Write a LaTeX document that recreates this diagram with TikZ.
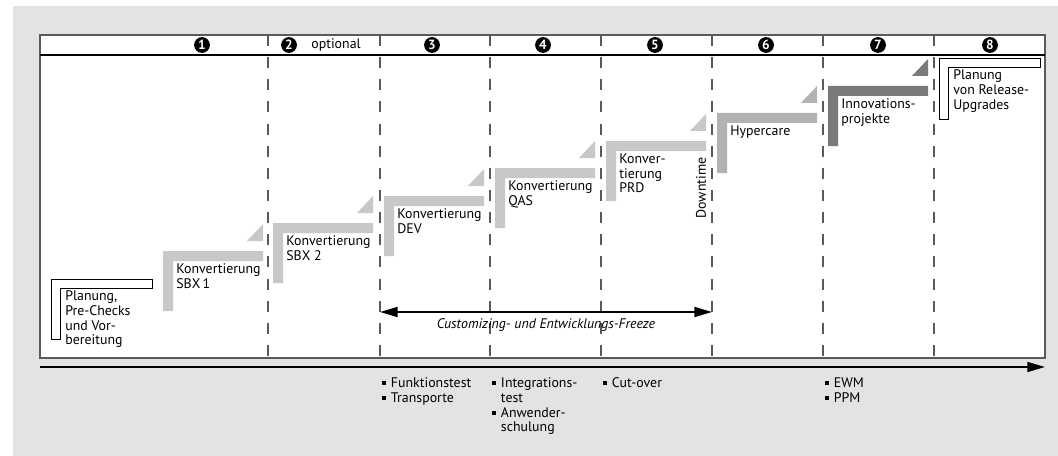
\documentclass[tikz,border=0pt]{standalone}
\usepackage{fontspec}
\setmainfont{PT Sans}
\usetikzlibrary{arrows.meta}
\definecolor{bggray}{HTML}{E3E3E3}
\definecolor{stepgray}{HTML}{C8C8C8}
\definecolor{caregray}{HTML}{B2B2B2}
\definecolor{innogray}{HTML}{7A7A7A}
\definecolor{framegray}{HTML}{5A5A5A}
\newcommand{\blt}{\raisebox{.35ex}{\rule{2.3pt}{2.3pt}}\hspace{2.6pt}}

\begin{document}
\begin{tikzpicture}[x=.02cm,y=-.02cm,
  every node/.style={font=\fontsize{7.9}{8.5}\selectfont},
  txt/.style={anchor=north west,inner sep=0pt,align=left},
  phaseline/.style={draw=framegray,line width=.75pt,dash pattern=on 6.3pt off 6.3pt},
  num/.style={circle,fill=black,text=white,inner sep=0pt,minimum size=9pt,font=\fontsize{7.6}{7.6}\selectfont\bfseries},
  outline/.style={draw=black,fill=white,line width=.5pt}]
\useasboundingbox (0,0) rectangle (1058,456);
\fill[bggray] (13,6) rectangle (1058,456);
\fill[white] (40,35) rectangle (1045,358);

% phases
\draw[phaseline] (268,35) -- (268,358);
\draw[phaseline] (380,35) -- (380,358);
\draw[phaseline] (490,35) -- (490,358);
\draw[phaseline] (601,35) -- (601,358);
\draw[phaseline] (712,35) -- (712,358);
\draw[phaseline] (823,35) -- (823,358);
\draw[phaseline] (934,35) -- (934,358);

\draw[framegray,line width=.6pt] (40,35) rectangle (1045,358);
\draw[black,line width=.7pt] (40,55) -- (1045,55);

\node[num] (n1) at (202,45) {1};
\node[num] (n2) at (289,45) {2};
\node[anchor=west,inner sep=0pt] (opt) at (311,45) {optional};
\node[num] (n3) at (432,45) {3};
\node[num] (n4) at (543,45) {4};
\node[num] (n5) at (655,45) {5};
\node[num] (n6) at (766,45) {6};
\node[num] (n7) at (878,45) {7};
\node[num] (n8) at (990,45) {8};

% steps
\draw[outline] (51,279) -- ++(101,0) -- ++(0,9) -- ++(-92,0) -- ++(0,51) -- ++(-9,0) -- cycle;
\node[txt] (plan) at (65,290) {Planung,\\Pre-Checks\\und Vor-\\bereitung};

\fill[stepgray] (163,251) -- ++(100,0) -- ++(0,10) -- ++(-90,0) -- ++(0,50) -- ++(-10,0) -- cycle;
\fill[stepgray] (247,241) -- ++(16,0) -- ++(0,-17) -- cycle;
\node[txt] (sbx1) at (176,263) {Konvertierung\\SBX\,1};

\fill[stepgray] (273,223) -- ++(100,0) -- ++(0,10) -- ++(-90,0) -- ++(0,50) -- ++(-10,0) -- cycle;
\fill[stepgray] (357,213) -- ++(16,0) -- ++(0,-17) -- cycle;
\node[txt] (sbx2) at (286,235) {Konvertierung\\SBX 2};

\fill[stepgray] (384,196) -- ++(100,0) -- ++(0,10) -- ++(-90,0) -- ++(0,50) -- ++(-10,0) -- cycle;
\fill[stepgray] (468,186) -- ++(16,0) -- ++(0,-17) -- cycle;
\node[txt] (dev) at (397,208) {Konvertierung\\DEV};

\fill[stepgray] (495,168) -- ++(100,0) -- ++(0,10) -- ++(-90,0) -- ++(0,50) -- ++(-10,0) -- cycle;
\fill[stepgray] (579,158) -- ++(16,0) -- ++(0,-17) -- cycle;
\node[txt] (qas) at (508,180) {Konvertierung\\QAS};

\fill[stepgray] (606,141) -- ++(100,0) -- ++(0,10) -- ++(-90,0) -- ++(0,50) -- ++(-10,0) -- cycle;
\fill[stepgray] (690,131) -- ++(16,0) -- ++(0,-17) -- cycle;
\node[txt] (prd) at (619,153) {Konver-\\tierung\\PRD};
\node[rotate=90,inner sep=0pt] (down) at (701,188) {Downtime};

\fill[caregray] (717,113) -- ++(100,0) -- ++(0,10) -- ++(-90,0) -- ++(0,50) -- ++(-10,0) -- cycle;
\fill[caregray] (801,103) -- ++(16,0) -- ++(0,-17) -- cycle;
\node[txt] (care) at (730,125) {Hypercare};

\fill[innogray] (828,86) -- ++(100,0) -- ++(0,10) -- ++(-90,0) -- ++(0,50) -- ++(-10,0) -- cycle;
\fill[innogray] (912,76) -- ++(16,0) -- ++(0,-17) -- cycle;
\node[txt] (inno) at (841,98) {Innovations-\\projekte};

\draw[outline] (939,58) -- ++(101,0) -- ++(0,9) -- ++(-92,0) -- ++(0,52) -- ++(-9,0) -- cycle;
\node[txt] (rel) at (953,69) {Planung\\von Release-\\Upgrades};

% freeze
\coordinate (fz1) at (380,312);
\coordinate (fz2) at (712,312);
\draw[line width=1.2pt,{Triangle[length=10pt,width=5.6pt]}-{Triangle[length=10pt,width=5.6pt]}] (fz1) -- (fz2);
\node[font=\fontsize{7.9}{8.5}\selectfont\itshape] (fztxt) at (546,325) {Customizing- und Entwicklungs-Freeze};

% timeline
\coordinate (t0) at (40,367);
\coordinate (t1) at (1045,367);
\draw[line width=1.1pt,-{Triangle[length=10pt,width=5.6pt]}] (t0) -- (t1);

\node[txt] (b3) at (382,377) {\blt Funktionstest\\\blt Transporte};
\node[txt] (b4) at (492,377) {\blt Integrations-\\\hphantom{\blt}test\\\blt Anwender-\\\hphantom{\blt}schulung};
\node[txt] (b5) at (603,377) {\blt Cut-over};
\node[txt] (b7) at (825,377) {\blt EWM\\\blt PPM};
\end{tikzpicture}
\end{document}
